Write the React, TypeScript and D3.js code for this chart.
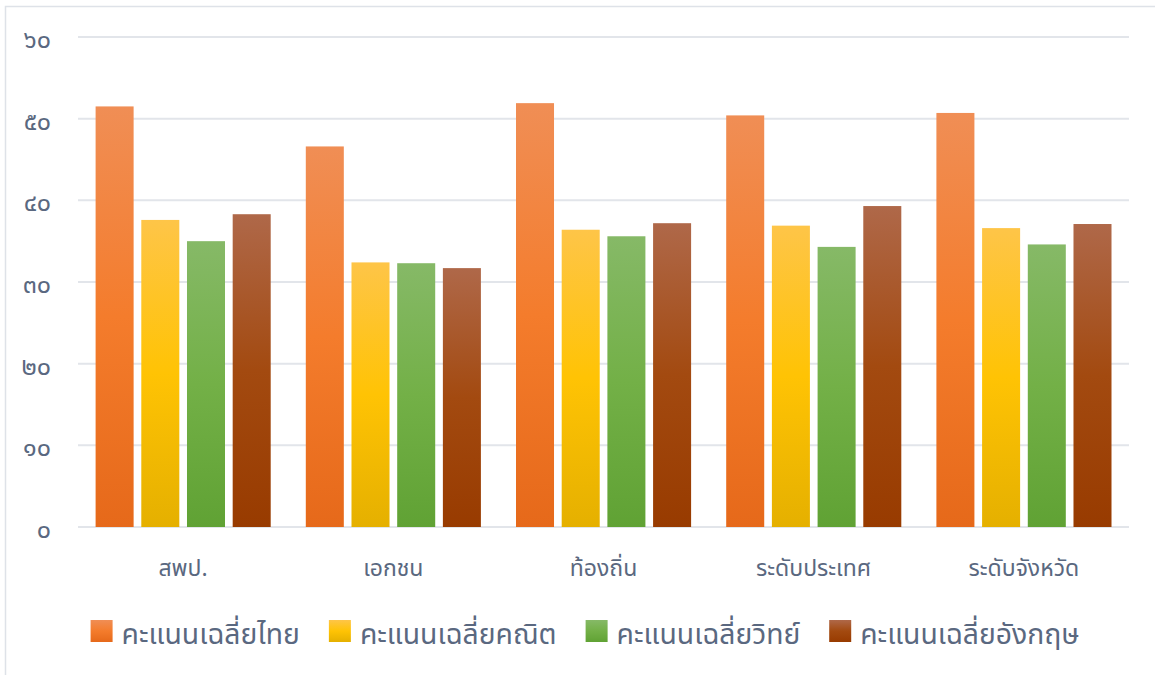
import React, { useEffect, useRef } from "react";
import * as d3 from "d3";

const categories = ["สพป.", "เอกชน", "ท้องถิ่น", "ระดับประเทศ", "ระดับจังหวัด"];
const seriesNames = ["คะแนนเฉลี่ยไทย", "คะแนนเฉลี่ยคณิต", "คะแนนเฉลี่ยวิทย์", "คะแนนเฉลี่ยอังกฤษ"];
const thaiScores = [51.5, 46.6, 51.9, 50.4, 50.7];
const mathScores = [37.6, 32.4, 36.4, 36.9, 36.6];
const sciScores = [35.0, 32.3, 35.6, 34.3, 34.6];
const engScores = [38.3, 31.7, 37.2, 39.3, 37.1];
const yTicks = [0, 10, 20, 30, 40, 50, 60];
const thaiDigits = ["๐", "๑", "๒", "๓", "๔", "๕", "๖", "๗", "๘", "๙"];

const seriesValues = [thaiScores, mathScores, sciScores, engScores];
const gradStops = [
  ["#F08E55", "#F47C2C", "#E6691A"],
  ["#FEC548", "#FFC304", "#E5B000"],
  ["#86B967", "#73B047", "#60A234"],
  ["#AF6849", "#A34A10", "#983B00"],
];

const W = 1155;
const H = 675;
const FONT = "'Noto Sans Thai', 'Leelawadee UI', Tahoma, 'Noto Sans', sans-serif";
const TEXT = "#5A6880";

const toThai = (n: number) =>
  String(n)
    .split("")
    .map((c) => (c >= "0" && c <= "9" ? thaiDigits[+c] : c))
    .join("");

export default function App() {
  const ref = useRef<SVGSVGElement | null>(null);

  useEffect(() => {
    const svg = d3.select(ref.current);
    svg.selectAll("*").remove();

    const left = 78, right = 1129, top = 37, bottom = 527;

    const defs = svg.append("defs");
    gradStops.forEach((stops, i) => {
      const g = defs
        .append("linearGradient")
        .attr("id", `grad${i}`)
        .attr("x1", 0).attr("y1", 0).attr("x2", 0).attr("y2", 1);
      g.append("stop").attr("offset", "0%").attr("stop-color", stops[0]);
      g.append("stop").attr("offset", "50%").attr("stop-color", stops[1]);
      g.append("stop").attr("offset", "100%").attr("stop-color", stops[2]);
    });

    svg.append("rect").attr("width", W).attr("height", H).attr("fill", "#fff");
    svg
      .append("rect")
      .attr("x", 5.5).attr("y", 6.5)
      .attr("width", W + 20).attr("height", H + 20)
      .attr("fill", "none")
      .attr("stroke", "#DEE2E8")
      .attr("stroke-width", 1.5);

    const y = d3.scaleLinear().domain([0, 60]).range([bottom, top]);
    const x0 = d3.scaleBand<string>().domain(categories).range([left, right]).padding(0);
    const inner0 = 17.6;
    const inner1 = x0.bandwidth() - 17.5;
    const x1 = d3
      .scaleBand<string>()
      .domain(seriesNames)
      .range([inner0, inner1])
      .paddingInner(0.168)
      .paddingOuter(0);

    // gridlines
    svg
      .append("g")
      .selectAll("line")
      .data(yTicks)
      .join("line")
      .attr("x1", left).attr("x2", right)
      .attr("y1", (d) => y(d)).attr("y2", (d) => y(d))
      .attr("stroke", "#E2E5EA")
      .attr("stroke-width", 2);

    // y labels
    svg
      .append("g")
      .selectAll("text")
      .data(yTicks)
      .join("text")
      .attr("x", 51)
      .attr("y", (d) => y(d) + 4)
      .attr("text-anchor", "end")
      .attr("dominant-baseline", "middle")
      .attr("font-family", FONT)
      .attr("font-size", 25)
      .attr("fill", TEXT)
      .text((d) => toThai(d));

    // bars
    const groups = svg
      .append("g")
      .selectAll("g")
      .data(categories)
      .join("g")
      .attr("transform", (d) => `translate(${x0(d)},0)`);

    groups
      .selectAll("rect")
      .data((_, ci) => seriesNames.map((s, si) => ({ s, si, v: seriesValues[si][ci] })))
      .join("rect")
      .attr("x", (d) => x1(d.s) as number)
      .attr("width", x1.bandwidth())
      .attr("y", (d) => y(d.v))
      .attr("height", (d) => y(0) - y(d.v))
      .attr("fill", (d) => `url(#grad${d.si})`);

    // category labels
    svg
      .append("g")
      .selectAll("text")
      .data(categories)
      .join("text")
      .attr("x", (d) => (x0(d) as number) + x0.bandwidth() / 2)
      .attr("y", 576)
      .attr("text-anchor", "middle")
      .attr("font-family", FONT)
      .attr("font-size", 23)
      .attr("fill", TEXT)
      .text((d) => d);

    // legend
    const lg = svg.append("g");
    const items = lg
      .selectAll("g")
      .data(seriesNames)
      .join("g");
    items
      .append("text")
      .attr("y", 644)
      .attr("font-family", FONT)
      .attr("font-size", 28.3)
      .attr("fill", TEXT)
      .text((d) => d);
    const sq = 22, sqGap = 9, itemGap = 29;
    const widths: number[] = [];
    items.select("text").each(function () {
      widths.push((this as SVGTextElement).getComputedTextLength());
    });
    const total = d3.sum(widths) + widths.length * (sq + sqGap) + (widths.length - 1) * itemGap;
    let cx = 585 - total / 2;
    items.each(function (_, i) {
      const g = d3.select(this);
      g.insert("rect", "text")
        .attr("x", cx).attr("y", 620)
        .attr("width", sq).attr("height", sq)
        .attr("fill", `url(#grad${i})`);
      g.select("text").attr("x", cx + sq + sqGap);
      cx += sq + sqGap + widths[i] + itemGap;
    });
  }, []);

  return (
    <svg
      ref={ref}
      width={W}
      height={H}
      style={{ position: "absolute", left: 0, top: 0, display: "block" }}
    />
  );
}
